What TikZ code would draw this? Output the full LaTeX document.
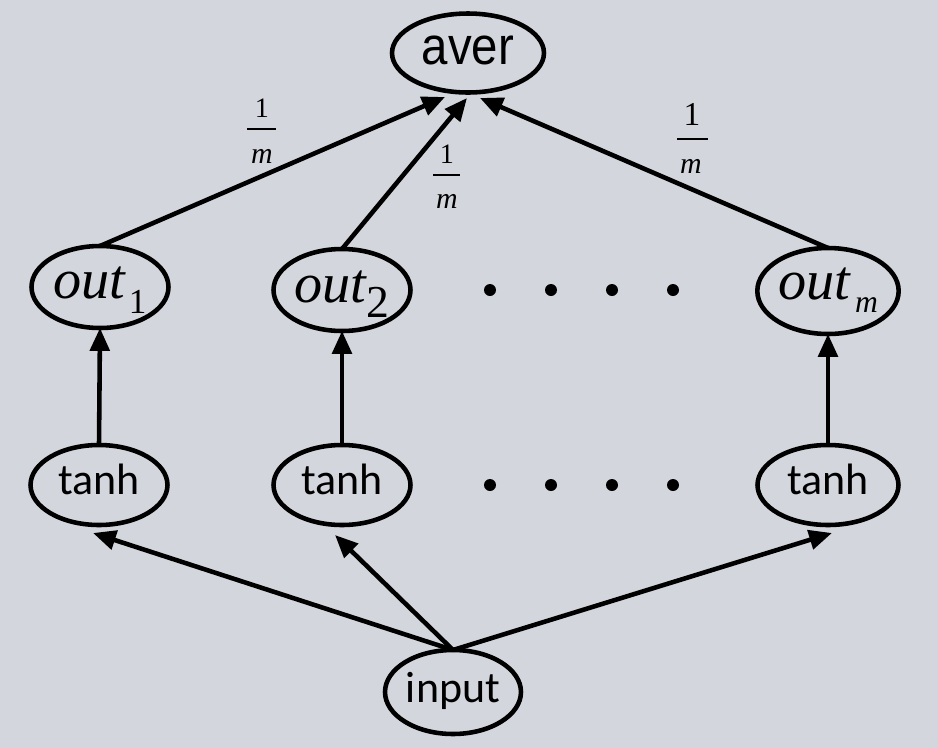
\documentclass[tikz,border=0pt]{standalone}
\usepackage{fontspec}
\setmainfont{Liberation Serif}
\newfontfamily\timesf{Liberation Serif}
\newfontfamily\arialf{Liberation Sans}
\newfontfamily\calibf{Carlito}
\usetikzlibrary{shapes.geometric,arrows.meta}
\definecolor{bg}{RGB}{211,214,220}
\begin{document}
\begin{tikzpicture}[x=0.02cm,y=-0.02cm,
  el/.style={draw,ellipse,line width=2.6pt,inner sep=0pt,outer sep=0pt,text depth=0pt},
  arr/.style={line width=2.6pt,-{Triangle[length=13pt,width=11pt]}},
  dotn/.style={circle,fill=black,inner sep=0pt,minimum size=0.24cm},
  fracbar/.style={line width=1.4pt},
  onef/.style={anchor=base,inner sep=0pt},
]
\fill[bg] (0,0) rectangle (938,748);
\useasboundingbox (0,0) rectangle (938,748);

% nodes
\node[el,minimum width=3.04cm,minimum height=1.58cm,text height=13.6pt] (aver) at (468,53)
  {\arialf\fontsize{27}{27}\selectfont\scalebox{1}[1.12]{aver}};

\node[el,minimum width=2.74cm,minimum height=1.64cm,text height=13.6pt] (out1) at (100,287)
  {\timesf\fontsize{32}{32}\selectfont\itshape out\hspace{2pt}\raisebox{-8pt}{\fontsize{20}{20}\selectfont\upshape 1}};
\node[el,minimum width=2.74cm,minimum height=1.64cm,text height=14.7pt] (out2) at (342,290)
  {\timesf\fontsize{32}{32}\selectfont\itshape out\hspace{0pt}\raisebox{-8.5pt}{\fontsize{26}{26}\selectfont\upshape 2}};
\node[el,minimum width=2.82cm,minimum height=1.72cm,text height=10pt] (outm) at (828,291)
  {\timesf\fontsize{32}{32}\selectfont\itshape out\hspace{3pt}\raisebox{-7pt}{\fontsize{18}{18}\selectfont m}};

\node[el,minimum width=2.74cm,minimum height=1.6cm,text height=11.3pt] (tanh1) at (99,485)
  {\calibf\fontsize{25}{25}\selectfont tanh};
\node[el,minimum width=2.74cm,minimum height=1.6cm,text height=11.3pt] (tanh2) at (342,485)
  {\calibf\fontsize{25}{25}\selectfont tanh};
\node[el,minimum width=2.82cm,minimum height=1.6cm,text height=11.3pt] (tanhm) at (828,485)
  {\calibf\fontsize{25}{25}\selectfont tanh};

\node[el,minimum width=2.72cm,minimum height=1.68cm,text height=12.5pt] (input) at (453,692)
  {\calibf\fontsize{25}{25}\selectfont input};

% dots
\foreach \xx [count=\i] in {490,551,612,673}{
  \node[dotn] (dA\i) at (\xx,290) {};
  \node[dotn] (dB\i) at (\xx,485) {};
}

% connectors
\draw[arr] (out1.north) -- ([shift={(-23,44)}]aver.center);
\draw[arr] (out2.north) -- ([shift={(-1,45)}]aver.center);
\draw[arr] (outm.north) -- ([shift={(12,45)}]aver.center);

\draw[arr] (tanh1.north) -- (out1.south);
\draw[arr] (tanh2.north) -- (out2.south);
\draw[arr] (tanhm.north) -- (outm.south);

\draw[arr] (input.north) -- ([shift={(-6,48)}]tanh1.center);
\draw[arr] (input.north) -- ([shift={(-7,50)}]tanh2.center);
\draw[arr] (input.north) -- ([shift={(4,48)}]tanhm.center);

% weight labels 1/m
\node[onef] (fa1) at (262,117) {\timesf\fontsize{16}{16}\selectfont 1};
\draw[fracbar] (247,129) -- (276,129);
\node[onef] (fam) at (262,163) {\timesf\fontsize{17}{17}\selectfont\itshape m};

\node[onef] (fb1) at (447,163) {\timesf\fontsize{16}{16}\selectfont 1};
\draw[fracbar] (433,175) -- (460,175);
\node[onef] (fbm) at (447,208) {\timesf\fontsize{17}{17}\selectfont\itshape m};

\node[onef] (fc1) at (692,125) {\timesf\fontsize{19}{19}\selectfont 1};
\draw[fracbar] (677,139) -- (708,139);
\node[onef] (fcm) at (691,173) {\timesf\fontsize{17}{17}\selectfont\itshape m};
\end{tikzpicture}
\end{document}
